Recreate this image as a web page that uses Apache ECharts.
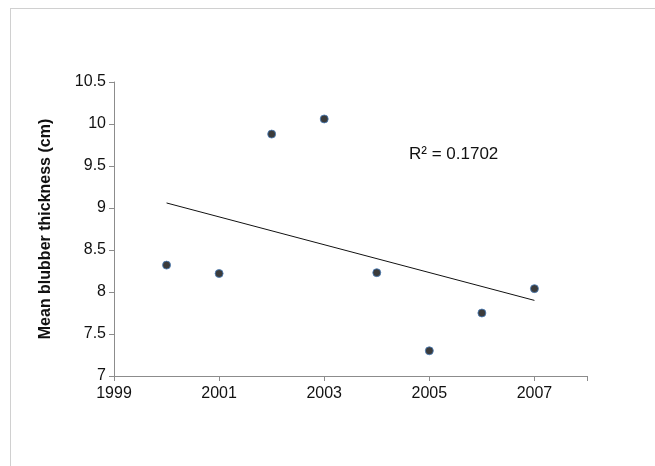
<!DOCTYPE html>
<html>
<head>
<meta charset="UTF-8">
<script src="https://cdn.jsdelivr.net/npm/echarts@6/dist/echarts.min.js"></script>
<style>
html, body { margin: 0; padding: 0; background: #fff; }
#frame { position: absolute; left: 10px; top: 8px; width: 660px; height: 470px; border: 1px solid #d0d0d0; }
#chart { position: absolute; left: 0; top: 0; width: 655px; height: 466px; }
</style>
</head>
<body>
<div id="frame"></div>
<div id="chart"></div>
<script>
var years = [2000, 2001, 2002, 2003, 2004, 2005, 2006, 2007];
var blubber = [8.32, 8.22, 9.88, 10.06, 8.23, 7.30, 7.75, 8.04];
// trend line end points
var trendYears = [2000, 2007];
var trendValues = [9.06, 7.90];

var myChart = echarts.init(document.getElementById('chart'));
var pts = [];
for (var i = 0; i < years.length; i++) pts.push([years[i], blubber[i]]);
var trend = [];
for (var j = 0; j < trendYears.length; j++) trend.push([trendYears[j], trendValues[j]]);

var axisStyle = { lineStyle: { color: '#8c8c8c', width: 1 } };
myChart.setOption({
  animation: false,
  grid: { left: 114, right: 68, top: 82, bottom: 90 },
  xAxis: {
    type: 'value', min: 1999, max: 2008, interval: 2,
    axisLine: axisStyle, axisTick: { show: true, length: 5, lineStyle: { color: '#8c8c8c' } },
    splitLine: { show: false },
    axisLabel: { color: '#111', fontSize: 16, fontFamily: 'Liberation Sans', margin: 10,
      formatter: function (v) { return v <= 2007 ? String(v) : ''; } }
  },
  yAxis: {
    type: 'value', min: 7, max: 10.5, interval: 0.5,
    name: 'Mean blubber thickness (cm)', nameLocation: 'middle', nameGap: 60,
    nameTextStyle: { color: '#111', fontSize: 16, fontWeight: 'bold', fontFamily: 'Liberation Sans' },
    axisLine: { show: true, lineStyle: { color: '#8c8c8c', width: 1 } },
    axisTick: { show: true, length: 5, lineStyle: { color: '#8c8c8c' } },
    splitLine: { show: false },
    axisLabel: { color: '#111', fontSize: 16, fontFamily: 'Liberation Sans', margin: 8 }
  },
  series: [{
    type: 'line', data: trend, symbol: 'none',
    lineStyle: { color: '#111', width: 1 }
  }, {
    type: 'scatter', data: pts, symbolSize: 8,
    itemStyle: { color: '#0a0a0a', borderColor: '#4a7ebb', borderWidth: 1 }
  }],
  graphic: [{
    type: 'text', left: 409, top: 146,
    style: { text: 'R² = 0.1702', fontSize: 17, fill: '#111', fontFamily: 'Liberation Sans' }
  }]
});
</script>
</body>
</html>
